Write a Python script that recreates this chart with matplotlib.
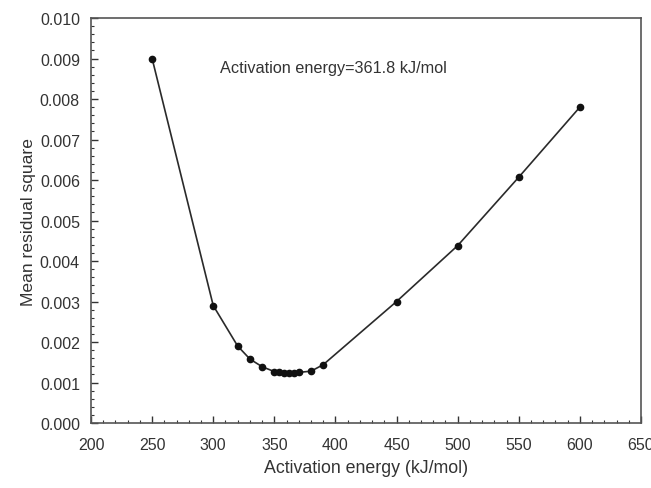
import matplotlib
matplotlib.use('Agg')
import matplotlib.pyplot as plt
from matplotlib.ticker import MultipleLocator, FormatStrFormatter

plt.rcParams['font.family'] = ['Liberation Sans', 'DejaVu Sans']

# 数据
energy = [250, 300, 320, 330, 340, 350, 354, 358, 362, 366, 370, 380, 390, 450, 500, 550, 600]
residual = [0.0090, 0.0029, 0.0019, 0.00158, 0.00139, 0.00127, 0.00125, 0.00123,
            0.00123, 0.00124, 0.00125, 0.00128, 0.00144, 0.0030, 0.00438, 0.00607, 0.0078]
note = 'Activation energy=361.8 kJ/mol'

fig = plt.figure(figsize=(6.51, 4.89), dpi=100)
ax = fig.add_axes([0.1398, 0.1329, 0.8448, 0.8282])

ax.plot(energy, residual, '-', color='#2a2a2a', lw=1.2,
        marker='o', ms=4.5, mfc='#111111', mec='#111111')

ax.set_xlim(200, 650)
ax.set_ylim(0, 0.010)
ax.xaxis.set_major_locator(MultipleLocator(50))
ax.xaxis.set_minor_locator(MultipleLocator(10))
ax.yaxis.set_major_locator(MultipleLocator(0.001))
ax.yaxis.set_minor_locator(MultipleLocator(0.0002))
ax.yaxis.set_major_formatter(FormatStrFormatter('%.3f'))

ax.tick_params(which='both', direction='in', top=False, right=False,
               colors='#333333', labelcolor='#333333', labelsize=11.5)
ax.tick_params(which='major', length=5, width=1)
ax.tick_params(which='minor', length=2.5, width=0.8)
ax.tick_params(axis='x', which='major', pad=10)
ax.tick_params(axis='y', which='major', pad=8)
for s in ax.spines.values():
    s.set_color('#555555')
    s.set_linewidth(1.2)

# 650 在右边被截掉一半，和原图一样
ax.set_xlabel('Activation energy (kJ/mol)', fontsize=12.8, color='#333333', labelpad=5)
ax.set_ylabel('Mean residual square', fontsize=12.6, color='#333333', labelpad=3)

ax.text(305.5, 0.00879, note, fontsize=11.7, color='#333333', va='center', ha='left')

fig.savefig('out.png', dpi=100)
